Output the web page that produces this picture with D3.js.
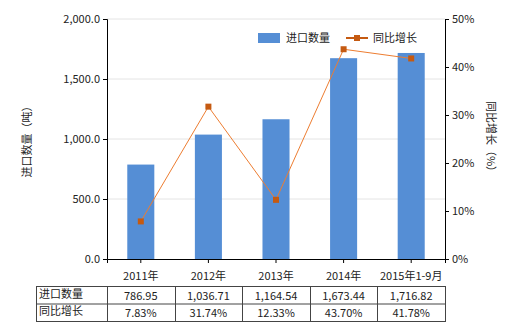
<!DOCTYPE html>
<html>
<head>
<meta charset="utf-8">
<script src="https://cdn.jsdelivr.net/npm/d3@7"></script>
<style>
  body { margin: 0; background: #fff; }
  svg text { font-family: "Noto Sans CJK SC", "DejaVu Sans", sans-serif; font-size: 11px; fill: #222; }
</style>
</head>
<body>
<svg id="chart" width="520" height="330"></svg>
<script>
'use strict';

var categories = ['2011年', '2012年', '2013年', '2014年', '2015年1-9月'];
var importQty = [786.95, 1036.71, 1164.54, 1673.44, 1716.82];
var yoyGrowth = [7.83, 31.74, 12.33, 43.70, 41.78];
var leftTicks = [0, 500, 1000, 1500, 2000];
var rightTicks = [0, 10, 20, 30, 40, 50];
var seriesNames = ['进口数量', '同比增长'];

var barColor = '#558ed5',
    lineColor = '#ed7d31',
    markerColor = '#c55a11';

var svg = d3.select('#chart');
var margin = {left: 107, right: 75, top: 19, bottom: 71};
var width = 520 - margin.left - margin.right,
    height = 330 - margin.top - margin.bottom;

var g = svg.append('g').attr('transform', 'translate(' + margin.left + ',' + margin.top + ')');

var x = d3.scaleBand().domain(categories).range([0, width]).paddingInner(0).paddingOuter(0);
var y = d3.scaleLinear().domain([0, 2000]).range([height, 0]);
var y2 = d3.scaleLinear().domain([0, 50]).range([height, 0]);

// grid
g.selectAll('line.grid').data(leftTicks.slice(1)).enter().append('line')
    .attr('class', 'grid')
    .attr('x1', 0).attr('x2', width)
    .attr('y1', function(d) { return y(d); }).attr('y2', function(d) { return y(d); })
    .attr('stroke', '#e4e4e4').attr('stroke-width', 1);

// bars
var barW = x.bandwidth() * 0.4;
g.selectAll('rect.bar').data(importQty).enter().append('rect')
    .attr('class', 'bar')
    .attr('x', function(d, i) { return x(categories[i]) + (x.bandwidth() - barW) / 2; })
    .attr('width', barW)
    .attr('y', function(d) { return y(d); })
    .attr('height', function(d) { return height - y(d); })
    .attr('fill', barColor);

// axes
var fmtLeft = d3.format(',.1f');
var leftAxis = g.append('g').call(d3.axisLeft(y).tickValues(leftTicks).tickFormat(fmtLeft).tickSizeOuter(0).tickSize(4));
var rightAxis = g.append('g').attr('transform', 'translate(' + width + ',0)')
    .call(d3.axisRight(y2).tickValues(rightTicks).tickFormat(function(d) { return d + '%'; }).tickSizeOuter(0).tickSize(4));
var bottomAxis = g.append('g').attr('transform', 'translate(0,' + height + ')')
    .call(d3.axisBottom(x).tickSizeOuter(0).tickSize(4));
[leftAxis, rightAxis, bottomAxis].forEach(function(a) {
    a.selectAll('path, line').attr('stroke', '#000');
    a.selectAll('text').attr('font-size', 11).attr('font-family', null).attr('fill', '#222');
});
bottomAxis.selectAll('text').attr('dy', '1.3em');

// line
var line = d3.line()
    .x(function(d, i) { return x(categories[i]) + x.bandwidth() / 2; })
    .y(function(d) { return y2(d); });
g.append('path').datum(yoyGrowth)
    .attr('d', line).attr('fill', 'none')
    .attr('stroke', lineColor).attr('stroke-width', 1);
g.selectAll('rect.marker').data(yoyGrowth).enter().append('rect')
    .attr('class', 'marker')
    .attr('x', function(d, i) { return x(categories[i]) + x.bandwidth() / 2 - 3; })
    .attr('y', function(d) { return y2(d) - 3; })
    .attr('width', 6).attr('height', 6)
    .attr('fill', markerColor);

// axis titles
svg.append('text')
    .attr('transform', 'translate(31,' + (margin.top + height / 2) + ') rotate(-90)')
    .attr('text-anchor', 'middle')
    .attr('font-size', 12)
    .text('进口数量（吨）');
svg.append('text')
    .attr('transform', 'translate(487,' + (margin.top + height / 2) + ') rotate(90)')
    .attr('text-anchor', 'middle')
    .attr('font-size', 12)
    .text('同比增长（%）');

// legend
var legend = svg.append('g').attr('transform', 'translate(258,33)');
legend.append('rect').attr('x', 0).attr('y', 0).attr('width', 22).attr('height', 10).attr('fill', barColor);
legend.append('text').attr('x', 28).attr('y', 9).text(seriesNames[0]);
legend.append('line').attr('x1', 88).attr('x2', 110).attr('y1', 5).attr('y2', 5)
    .attr('stroke', markerColor).attr('stroke-width', 2);
legend.append('rect').attr('x', 96).attr('y', 2).attr('width', 6).attr('height', 6).attr('fill', markerColor);
legend.append('text').attr('x', 115).attr('y', 9).text(seriesNames[1]);

// data table
var tableTop = 286, rowH = 17.5, tableLeft = 36;
var t = svg.append('g');
var rows = [
    {name: seriesNames[0], vals: importQty.map(d3.format(',.2f'))},
    {name: seriesNames[1], vals: yoyGrowth.map(function(v) { return v.toFixed(2) + '%'; })}
];
t.append('rect')
    .attr('x', tableLeft + 0.5).attr('y', tableTop + 0.5)
    .attr('width', margin.left + width - tableLeft).attr('height', rowH * 2)
    .attr('fill', 'none').attr('stroke', '#444');
t.append('line')
    .attr('x1', tableLeft + 0.5).attr('x2', margin.left + width + 0.5)
    .attr('y1', tableTop + rowH + 0.5).attr('y2', tableTop + rowH + 0.5)
    .attr('stroke', '#444');
t.selectAll('line.col').data(categories).enter().append('line')
    .attr('class', 'col')
    .attr('x1', function(d) { return Math.round(margin.left + x(d)) + 0.5; })
    .attr('x2', function(d) { return Math.round(margin.left + x(d)) + 0.5; })
    .attr('y1', tableTop).attr('y2', tableTop + rowH * 2)
    .attr('stroke', '#444');
rows.forEach(function(r, ri) {
    var cy = tableTop + rowH * ri + rowH / 2 + 4;
    t.append('text').attr('x', tableLeft + 3).attr('y', cy - 1).text(r.name);
    r.vals.forEach(function(v, i) {
        t.append('text')
            .attr('x', margin.left + x(categories[i]) + x.bandwidth() / 2)
            .attr('y', cy + 1)
            .attr('text-anchor', 'middle')
            .text(v);
    });
});
</script>
</body>
</html>
